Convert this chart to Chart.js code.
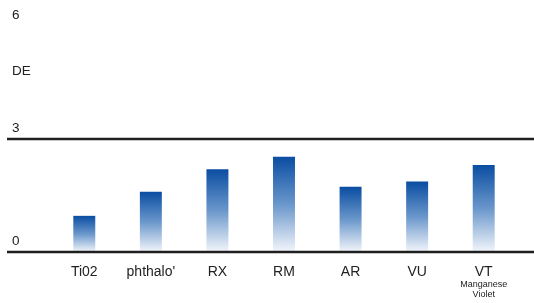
<!DOCTYPE html>
<html><head><meta charset="utf-8">
<script src="https://cdn.jsdelivr.net/npm/chart.js@4/dist/chart.umd.min.js"></script>
<style>html,body{margin:0;padding:0;background:#fff;}#wrap{width:534px;height:303px;}</style>
</head><body><div id="wrap"><canvas id="c" width="534" height="303"></canvas></div>
<script>
const categories = ['Ti02', "phthalo'", 'RX', 'RM', 'AR', 'VU', 'VT'];
const subLabels = ['', '', '', '', '', '', ['Manganese', 'Violet']];
const deValues = [0.96, 1.60, 2.20, 2.53, 1.73, 1.87, 2.31];
const yTickValues = [0, 3, 4.5, 6];
const yTickLabels = ['0', '3', 'DE', '6'];
const ruleValues = [0, 3];

const FONT = "'Liberation Sans', Arial, sans-serif";

function barGradient(ctx) {
  const chart = ctx.chart;
  const ys = chart.scales.y;
  if (!ys || !chart.chartArea) return '#0b4ea2';
  const top = ys.getPixelForValue(ctx.raw);
  const bottom = ys.getPixelForValue(0);
  const g = chart.ctx.createLinearGradient(0, top, 0, bottom);
  g.addColorStop(0, '#0a4da2');
  g.addColorStop(0.5, '#6a97cb');
  g.addColorStop(1, '#f3f6fb');
  return g;
}

const rulesPlugin = {
  id: 'rules',
  afterDatasetsDraw(chart) {
    const c = chart.ctx, ys = chart.scales.y;
    c.save();
    c.strokeStyle = '#1f1f1f';
    c.lineWidth = 2.6;
    ruleValues.forEach(v => {
      const y = ys.getPixelForValue(v);
      c.beginPath(); c.moveTo(7, y); c.lineTo(chart.width, y); c.stroke();
    });
    c.restore();
  }
};

new Chart(document.getElementById('c'), {
  type: 'bar',
  data: {
    labels: categories,
    datasets: [{
      data: deValues,
      backgroundColor: barGradient,
      borderWidth: 0,
      barPercentage: 0.33,
      categoryPercentage: 1
    }]
  },
  options: {
    responsive: false,
    animation: false,
    events: [],
    layout: { padding: { left: 12, right: 17, top: 26, bottom: 0 } },
    plugins: { legend: { display: false }, tooltip: { enabled: false } },
    scales: {
      y: {
        min: 0, max: 6,
        afterBuildTicks: (axis) => { axis.ticks = yTickValues.map(v => ({ value: v })); },
        afterFit: (axis) => { axis.width = 39; },
        grid: { display: false },
        border: { display: false },
        ticks: {
          crossAlign: 'far',
          labelOffset: -11,
          color: '#222',
          font: { family: FONT, size: 13.5 },
          callback: (v) => yTickLabels[yTickValues.indexOf(v)]
        }
      },
      x: {
        offset: true,
        grid: { display: false, drawTicks: false },
        border: { display: false },
        afterFit: (axis) => { axis.height = 27; },
        ticks: {
          autoSkip: false, maxRotation: 0, padding: 12,
          color: '#222',
          font: { family: FONT, size: 14 }
        }
      },
      x2: {
        type: 'category',
        labels: subLabels,
        position: 'bottom',
        offset: true,
        grid: { display: false, drawTicks: false },
        border: { display: false },
        afterFit: (axis) => { axis.height = 24; },
        ticks: {
          autoSkip: false, maxRotation: 0, padding: 1,
          color: '#222',
          font: { family: FONT, size: 9, lineHeight: 1.05 }
        }
      }
    }
  },
  plugins: [rulesPlugin]
});
</script></body></html>
